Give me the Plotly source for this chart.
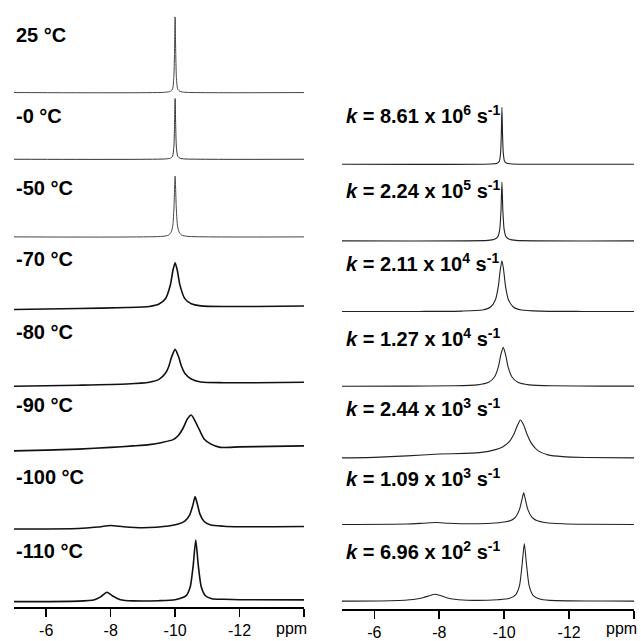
import plotly.graph_objects as go

# ---------------- data (ppm, intensity above each baseline) ----------------
TEMP_LABELS = ["25 °C", "-0 °C", "-50 °C", "-70 °C", "-80 °C", "-90 °C", "-100 °C", "-110 °C"]
K_MANTISSA = ["8.61", "2.24", "2.11", "1.27", "2.44", "1.09", "6.96"]
K_EXPONENT = ["6", "5", "4", "4", "3", "3", "2"]

TICK_VALS = [-6, -8, -10, -12, -14]
TICK_TEXT = ["-6", "-8", "-10", "-12", " "]

# experimental spectra (left)
PPM_25 = [-5, -9.7, -9.85, -9.92, -9.96, -9.98, -10.0, -10.02, -10.04, -10.08, -10.15, -10.3, -14]
INT_25 = [0, 0.3, 1.2, 3.5, 15, 38, 76, 38, 15, 3.5, 1.2, 0.3, 0]

PPM_0 = [-5, -9.7, -9.85, -9.92, -9.96, -9.98, -10.0, -10.02, -10.04, -10.08, -10.15, -10.3, -14]
INT_0 = [0, 0.3, 1.0, 3, 12, 30, 61, 30, 12, 3, 1.0, 0.3, 0]

PPM_M50 = [-5, -9.6, -9.8, -9.88, -9.93, -9.965, -10.0, -10.035, -10.07, -10.12, -10.2, -10.4, -14]
INT_M50 = [0, 0.5, 1.8, 5, 12, 30, 61, 30, 12, 5, 1.8, 0.5, 0]

PPM_M70 = [-5, -7, -8.5, -9.2, -9.5, -9.7, -9.85, -9.93, -10.0, -10.07, -10.15, -10.3, -10.5, -10.8, -11.5, -12.5, -14]
INT_M70 = [0, 1.0, 2.0, 3.1, 5.5, 10.8, 24.4, 39, 47, 39, 24.5, 11, 5.8, 3.7, 3.0, 3.1, 3.5]

PPM_M80 = [-5, -7, -8.5, -9.2, -9.5, -9.7, -9.8, -9.9, -10.0, -10.1, -10.2, -10.3, -10.5, -10.8, -11.5, -12.5, -14]
INT_M80 = [0, 1.0, 2.2, 4.0, 6.8, 12.9, 19.6, 30.2, 37, 30.3, 19.8, 13.1, 7.2, 4.2, 3.5, 3.4, 4.0]

PPM_M90 = [-5, -6, -7, -8, -8.7, -9.2, -9.6, -9.94, -10.1, -10.25, -10.38, -10.5, -10.62, -10.77, -10.9, -11.1, -11.4, -12, -13, -14]
INT_M90 = [0, 0.8, 1.8, 3.5, 5, 6.3, 8.5, 11.3, 15.5, 23, 32, 36, 30, 20, 12, 7, 3.5, 4, 4.5, 5]

PPM_M100 = [-5, -7, -7.6, -8, -8.4, -9, -9.8, -10.1, -10.3, -10.45, -10.55, -10.62, -10.69, -10.77, -10.9, -11.1, -11.5, -12, -14]
INT_M100 = [0, 0.5, 2, 3.5, 2.2, 1.2, 3, 5, 8, 14, 24, 32.5, 25, 15, 7.5, 4, 2.8, 2.3, 2.5]

PPM_M110 = [-5, -7, -7.5, -7.7, -7.88, -8.05, -8.3, -8.7, -9.5, -10.0, -10.34, -10.47, -10.56, -10.64, -10.72, -10.81, -10.94, -11.14, -11.5, -12, -14]
INT_M110 = [0, 0.5, 2, 5, 9.5, 6, 2, 0.8, 1, 2, 6, 15, 36, 62, 36, 15, 6, 3, 2.4, 2, 1.8]

# simulated spectra (right)
PPM_K1 = [-5, -9.6, -9.78, -9.85, -9.89, -9.91, -9.93, -9.95, -9.97, -10.01, -10.08, -10.25, -14]
INT_K1 = [0, 0.3, 1, 3, 12, 28.5, 57, 28.5, 12, 3, 1, 0.3, 0]

PPM_K2 = [-5, -9.5, -9.7, -9.8, -9.86, -9.9, -9.93, -9.96, -10.0, -10.06, -10.16, -10.36, -14]
INT_K2 = [0, 0.5, 1.6, 4, 11, 29.5, 59, 29.5, 11, 4, 1.6, 0.5, 0]

PPM_K3 = [-5, -7.4, -8.7, -9.33, -9.58, -9.73, -9.82, -9.88, -9.93, -9.98, -10.04, -10.13, -10.28, -10.53, -11.13, -12.4, -14]
INT_K3 = [0, 0.1, 0.43, 1.6, 4.6, 11.9, 25.5, 42.3, 51, 42.3, 25.5, 11.9, 4.6, 1.6, 0.43, 0.1, 0]

PPM_K4 = [-5, -6.97, -8.47, -9.17, -9.52, -9.7, -9.82, -9.9, -9.97, -10.04, -10.12, -10.24, -10.42, -10.77, -11.47, -12.97, -14]
INT_K4 = [0, 0.1, 0.39, 1.34, 3.9, 9.2, 19.5, 32, 39, 32, 19.5, 9.2, 3.9, 1.34, 0.39, 0.1, 0.05]

PPM_K5 = [-5, -6, -7, -8, -8.8, -9.3, -9.7, -9.95, -10.15, -10.3, -10.4, -10.5, -10.6, -10.7, -10.85, -11.05, -11.35, -11.8, -12.5, -14]
INT_K5 = [0, 0.5, 2, 3.8, 4.5, 5.5, 8, 11, 16, 24, 32, 38, 33, 24, 14, 7, 3, 1.2, 0.4, 0]

PPM_K6 = [-5, -7, -7.5, -7.9, -8.3, -9, -9.6, -10, -10.2, -10.35, -10.47, -10.54, -10.6, -10.66, -10.73, -10.85, -11, -11.3, -11.8, -12.5, -14]
INT_K6 = [0, 0.5, 1.3, 2, 1.3, 0.8, 1.3, 2.5, 4, 7.5, 15, 24, 32, 24, 15, 7.5, 4, 1.8, 0.8, 0.3, 0]

PPM_K7 = [-5, -6.5, -7.2, -7.5, -7.7, -7.87, -8.05, -8.25, -8.6, -9.2, -9.8, -10.15, -10.35, -10.47, -10.55, -10.62, -10.69, -10.77, -10.89, -11.09, -11.4, -12, -13, -14]
INT_K7 = [0, 0.5, 1.7, 3.5, 5.5, 7, 5.5, 3.2, 1.5, 0.8, 1.5, 2.6, 6.3, 15.3, 36, 58, 36, 15.3, 5.8, 2.1, 0.8, 0.3, 0.1, 0]

LEFT_SPECTRA = [(PPM_25, INT_25), (PPM_0, INT_0), (PPM_M50, INT_M50), (PPM_M70, INT_M70),
                (PPM_M80, INT_M80), (PPM_M90, INT_M90), (PPM_M100, INT_M100), (PPM_M110, INT_M110)]
RIGHT_SPECTRA = [(PPM_K1, INT_K1), (PPM_K2, INT_K2), (PPM_K3, INT_K3), (PPM_K4, INT_K4),
                 (PPM_K5, INT_K5), (PPM_K6, INT_K6), (PPM_K7, INT_K7)]

# ---------------- layout constants (stacking, in page pixels) ----------------
W = H = 641
LEFT_BASE = [93, 160, 238, 311, 388, 453, 531.5, 604.5]
RIGHT_BASE = [165, 242, 313, 388, 460, 527, 604]
LEFT_LABEL_Y = [35, 117, 188.5, 260.5, 333.5, 407, 479.5, 553.5]
RIGHT_LABEL_Y = [115, 190, 264, 339, 409, 480, 553]
LEFT_WIDTH = [1.0, 1.0, 1.0, 1.6, 1.6, 1.6, 1.6, 1.6]
LEFT_COLOR = ["#444", "#333", "#444", "#111", "#111", "#111", "#111", "#111"]

FONT = "Arial, 'Liberation Sans', Helvetica, sans-serif"

fig = go.Figure()
for (ppm, inten), base, lw, col in zip(LEFT_SPECTRA, LEFT_BASE, LEFT_WIDTH, LEFT_COLOR):
    fig.add_trace(go.Scatter(x=ppm, y=[base - v for v in inten], mode="lines",
                             line=dict(color=col, width=lw, shape="spline", smoothing=0.6),
                             xaxis="x", yaxis="y", showlegend=False, hoverinfo="skip"))
for (ppm, inten), base in zip(RIGHT_SPECTRA, RIGHT_BASE):
    fig.add_trace(go.Scatter(x=ppm, y=[base - v for v in inten], mode="lines",
                             line=dict(color="#222", width=1.1, shape="spline", smoothing=0.6),
                             xaxis="x2", yaxis="y", showlegend=False, hoverinfo="skip"))

annotations = []
for txt, yy in zip(TEMP_LABELS, LEFT_LABEL_Y):
    annotations.append(dict(text="<b>%s</b>" % txt, x=14 / W, xref="paper", y=yy, yref="y",
                            xanchor="left", yanchor="middle", showarrow=False,
                            font=dict(family=FONT, size=20, color="black")))
for m, e, yy in zip(K_MANTISSA, K_EXPONENT, RIGHT_LABEL_Y):
    annotations.append(dict(text="<b><i>k</i> = %s x 10<sup>%s</sup> s<sup>-1</sup></b>" % (m, e),
                            x=345 / W, xref="paper", y=yy, yref="y",
                            xanchor="left", yanchor="middle", showarrow=False,
                            font=dict(family=FONT, size=20, color="black")))
for xc in (292, 623):
    annotations.append(dict(text="ppm", x=xc / W, xref="paper", y=631, yref="y",
                            xanchor="center", yanchor="middle", showarrow=False,
                            font=dict(family=FONT, size=16, color="black")))

axis_common = dict(range=[-5, -14], showgrid=False, zeroline=False, showline=True,
                   linecolor="black", linewidth=1.6, ticks="outside", ticklen=8,
                   tickwidth=1.6, tickcolor="black", tickvals=TICK_VALS, ticktext=TICK_TEXT,
                   tickfont=dict(family=FONT, size=16, color="black"), anchor="free",
                   fixedrange=True)

fig.update_layout(
    width=W, height=H, margin=dict(l=0, r=0, t=0, b=0),
    paper_bgcolor="white", plot_bgcolor="white",
    xaxis=dict(domain=[14 / W, 305 / W], position=(H - 610) / H, **axis_common),
    xaxis2=dict(domain=[343 / W, 636 / W], position=(H - 612) / H, **axis_common),
    yaxis=dict(domain=[0, 1], range=[H, 0], visible=False, fixedrange=True),
    annotations=annotations,
)

fig.write_html("out.html", config={"displayModeBar": False, "staticPlot": True},
               post_script="document.body.style.margin='0px';document.body.style.overflow='hidden';")
